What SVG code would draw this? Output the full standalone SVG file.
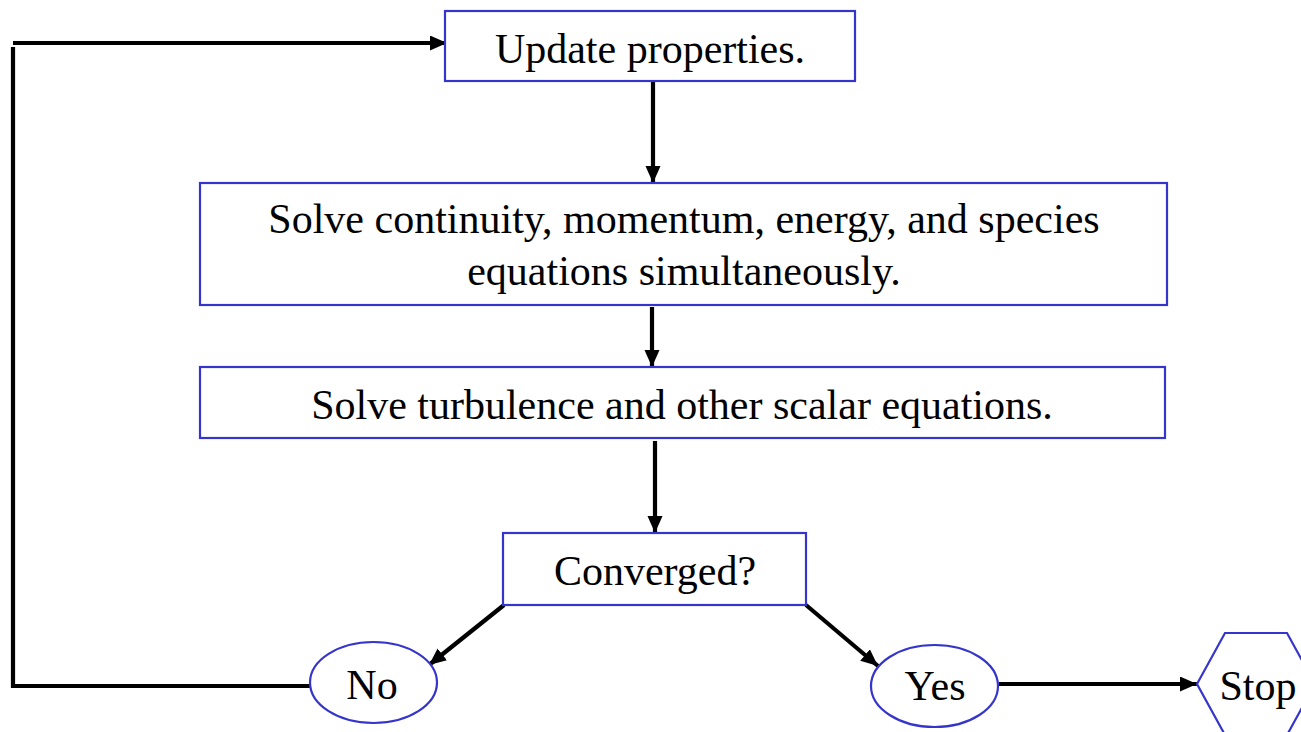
<svg xmlns="http://www.w3.org/2000/svg" width="1301" height="732" viewBox="0 0 1301 732">
<style>
.box{fill:#fff;stroke:#3535cc;stroke-width:2.2}
.t{font-family:"Liberation Serif","Times New Roman",serif;font-size:42px;fill:#000;text-anchor:middle}
.c{fill:none;stroke:#000;stroke-width:4.2}
</style>
<defs>
<marker id="ah" markerUnits="userSpaceOnUse" markerWidth="18" markerHeight="16" refX="17" refY="7.5" orient="auto">
<path d="M0,0 L17,7.5 L0,15 z" fill="#000"/>
</marker>
</defs>
<rect width="1301" height="732" fill="#fff"/>
<g id="connectors">
<line class="c" x1="653" y1="81" x2="653" y2="183" marker-end="url(#ah)"/>
<line class="c" x1="652" y1="307" x2="652" y2="367" marker-end="url(#ah)"/>
<line class="c" x1="655" y1="441" x2="655" y2="533" marker-end="url(#ah)"/>
<line class="c" x1="504" y1="605" x2="429" y2="665" marker-end="url(#ah)"/>
<line class="c" x1="806" y1="605" x2="878" y2="666" marker-end="url(#ah)"/>
<line class="c" x1="999" y1="684" x2="1197" y2="684" marker-end="url(#ah)"/>
<polyline class="c" points="310,686 13,686 13,47"/>
<line class="c" x1="13" y1="43" x2="447" y2="43" marker-end="url(#ah)"/>
</g>
<g id="update">
<rect class="box" x="445" y="11" width="410" height="70"/>
<text class="t" x="650" y="63">Update properties.</text>
</g>
<g id="solve1">
<rect class="box" x="200" y="183" width="967" height="122"/>
<text class="t" x="684" y="233">Solve continuity, momentum, energy, and species</text>
<text class="t" x="684" y="285">equations simultaneously.</text>
</g>
<g id="solve2">
<rect class="box" x="200" y="367" width="965" height="71"/>
<text class="t" x="682" y="419">Solve turbulence and other scalar equations.</text>
</g>
<g id="converged">
<rect class="box" x="503" y="533" width="303" height="72"/>
<text class="t" x="655" y="585">Converged?</text>
</g>
<g id="no">
<ellipse class="box" cx="373.5" cy="682.5" rx="63.5" ry="40.5"/>
<text class="t" x="372" y="699">No</text>
</g>
<g id="yes">
<ellipse class="box" cx="934.5" cy="686" rx="63.5" ry="41"/>
<text class="t" x="935" y="700">Yes</text>
</g>
<g id="stop">
<polygon class="box" points="1197,684 1225,633 1287,633 1315,684 1287,735 1225,735"/>
<text class="t" x="1258" y="700">Stop</text>
</g>
</svg>
